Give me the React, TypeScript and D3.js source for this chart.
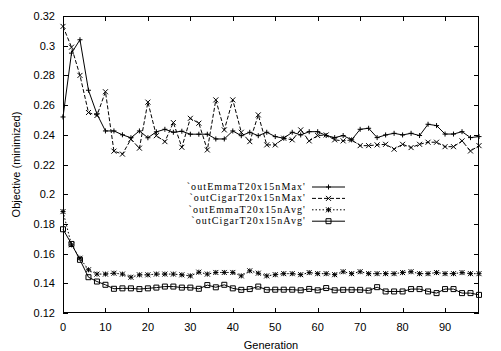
import React from "react";
import * as d3 from "d3";

// generation index (sampled every 2 generations)
const generations = [
  0, 2, 4, 6, 8, 10, 12, 14, 16, 18, 20, 22, 24, 26, 28, 30, 32, 34, 36, 38,
  40, 42, 44, 46, 48, 50, 52, 54, 56, 58, 60, 62, 64, 66, 68, 70, 72, 74, 76,
  78, 80, 82, 84, 86, 88, 90, 92, 94, 96, 98,
];

const emmaMax = [
  0.252, 0.295, 0.304, 0.27, 0.254, 0.2426, 0.2426, 0.24, 0.238, 0.2426,
  0.238, 0.242, 0.2437, 0.2417, 0.2424, 0.2404, 0.2404, 0.2404, 0.2372, 0.2372,
  0.2426, 0.2394, 0.2417, 0.2394, 0.2417, 0.2388, 0.2377, 0.2417, 0.2399,
  0.2421, 0.2421, 0.2395, 0.2381, 0.2395, 0.2366, 0.2437, 0.2444, 0.2381,
  0.2399, 0.241, 0.2399, 0.241, 0.2395, 0.2471, 0.2462, 0.2405, 0.2405,
  0.2421, 0.2381, 0.2388,
];

const cigarMax = [
  0.313, 0.299, 0.28, 0.255, 0.253, 0.269, 0.229, 0.227, 0.237, 0.231, 0.262,
  0.2394, 0.2354, 0.2482, 0.2316, 0.2511, 0.2478, 0.2298, 0.2635, 0.2433,
  0.2635, 0.2417, 0.2354, 0.2534, 0.2332, 0.2332, 0.2377, 0.2366, 0.2433,
  0.2359, 0.2395, 0.2399, 0.2366, 0.2359, 0.2366, 0.2327, 0.2327, 0.2332,
  0.2336, 0.2303, 0.2336, 0.2314, 0.2336, 0.235, 0.235, 0.232, 0.232, 0.2359,
  0.2291, 0.2327,
];

const emmaAvg = [
  0.1883, 0.1659, 0.1569, 0.1491, 0.1462, 0.1462, 0.1468, 0.1462, 0.1441,
  0.1457, 0.1457, 0.1462, 0.1462, 0.1462, 0.1457, 0.145, 0.1475, 0.1462,
  0.1473, 0.1473, 0.1473, 0.145, 0.1484, 0.1468, 0.145, 0.1458, 0.1465,
  0.1465, 0.1458, 0.1472, 0.1465, 0.1465, 0.1458, 0.1478, 0.1465, 0.1478,
  0.1465, 0.1465, 0.1465, 0.1465, 0.1472, 0.1478, 0.1465, 0.1465, 0.1472,
  0.1465, 0.1465, 0.1472, 0.1465, 0.1465,
];

const cigarAvg = [
  0.1764, 0.1665, 0.1558, 0.1441, 0.1412, 0.139, 0.1363, 0.1366, 0.1366,
  0.1361, 0.1366, 0.1371, 0.1378, 0.1378, 0.1371, 0.1371, 0.1363, 0.1388,
  0.1373, 0.139, 0.1366, 0.1356, 0.1361, 0.1378, 0.1356, 0.1357, 0.1357,
  0.1357, 0.1353, 0.1362, 0.1353, 0.1368, 0.1353, 0.1356, 0.1356, 0.1356,
  0.1351, 0.1374, 0.1345, 0.1345, 0.1345, 0.1361, 0.1361, 0.1345, 0.1334,
  0.1361, 0.1361, 0.1334, 0.1334, 0.1322,
];

const seriesNames = [
  "`outEmmaT20x15nMax'",
  "`outCigarT20x15nMax'",
  "`outEmmaT20x15nAvg'",
  "`outCigarT20x15nAvg'",
];

const xTicks = [0, 10, 20, 30, 40, 50, 60, 70, 80, 90];
const yTicks = [0.12, 0.14, 0.16, 0.18, 0.2, 0.22, 0.24, 0.26, 0.28, 0.3, 0.32];
const yTickLabels = ["0.12", "0.14", "0.16", "0.18", "0.2", "0.22", "0.24", "0.26", "0.28", "0.3", "0.32"];

const W = 501;
const H = 351;
const margin = { top: 16, right: 22, bottom: 38, left: 63 };

const sansFont = "'Liberation Sans', Arial, sans-serif";
const serifFont = "'Liberation Serif', 'Times New Roman', serif";

type MarkerKind = "plus" | "cross" | "star" | "square";

const markerPath = (kind: MarkerKind, s = 2.5) => {
  const plus = `M${-s},0H${s}M0,${-s}V${s}`;
  const cross = `M${-s},${-s}L${s},${s}M${-s},${s}L${s},${-s}`;
  if (kind === "plus") return plus;
  if (kind === "cross") return cross;
  if (kind === "star") return plus + cross;
  return `M${-s},${-s}H${s}V${s}H${-s}Z`;
};

const seriesList = [
  { name: seriesNames[0], values: emmaMax, dash: undefined, marker: "plus" as MarkerKind },
  { name: seriesNames[1], values: cigarMax, dash: "4,2", marker: "cross" as MarkerKind },
  { name: seriesNames[2], values: emmaAvg, dash: "1.5,2", marker: "star" as MarkerKind },
  { name: seriesNames[3], values: cigarAvg, dash: undefined, marker: "square" as MarkerKind },
];

export default function App() {
  const x = d3.scaleLinear().domain([0, 98]).range([margin.left, W - margin.right]);
  const y = d3.scaleLinear().domain([0.12, 0.32]).range([H - margin.bottom, margin.top]);
  const x0 = x.range()[0];
  const x1 = x.range()[1];
  const yb = y.range()[0];
  const yt = y.range()[1];
  const tick = 5;

  const line = d3
    .line<number>()
    .x((_, i) => x(generations[i]))
    .y((d) => y(d));

  // legend layout
  const legendRight = 306;
  const legendTop = 190;
  const legendStep = 11.4;
  const sampleX0 = 312;
  const sampleX1 = 345;

  return (
    <svg
      width={W}
      height={H}
      style={{ position: "absolute", left: 0, top: 0, background: "#fff" }}
    >
      <rect x={0} y={0} width={W} height={H} fill="#fff" />

      {/* ticks (inward, mirrored) */}
      <g stroke="#000" strokeWidth={1}>
        {yTicks.map((t) => (
          <g key={"y" + t}>
            <line x1={x0} x2={x0 + tick} y1={Math.round(y(t)) + 0.5} y2={Math.round(y(t)) + 0.5} />
            <line x1={x1 - tick} x2={x1} y1={Math.round(y(t)) + 0.5} y2={Math.round(y(t)) + 0.5} />
          </g>
        ))}
        {xTicks.map((t) => (
          <g key={"x" + t}>
            <line x1={Math.round(x(t)) + 0.5} x2={Math.round(x(t)) + 0.5} y1={yb} y2={yb - tick} />
            <line x1={Math.round(x(t)) + 0.5} x2={Math.round(x(t)) + 0.5} y1={yt} y2={yt + tick} />
          </g>
        ))}
      </g>

      {/* tick labels */}
      <g fontFamily={sansFont} fontSize={11} fill="#000">
        {yTicks.map((t, i) => (
          <text key={"yl" + t} x={x0 - 8} y={y(t) + 4} textAnchor="end">
            {yTickLabels[i]}
          </text>
        ))}
        {xTicks.map((t) => (
          <text key={"xl" + t} x={x(t)} y={yb + 18} textAnchor="middle">
            {t}
          </text>
        ))}
        <text x={(x0 + x1) / 2} y={H - 2} textAnchor="middle">
          Generation
        </text>
        <text
          transform={`translate(20,${(yt + yb) / 2}) rotate(-90)`}
          textAnchor="middle"
        >
          Objective (minimized)
        </text>
      </g>

      {/* series */}
      {seriesList.map((s) => (
        <g key={s.name}>
          <path
            d={line(s.values) ?? ""}
            fill="none"
            stroke="#000"
            strokeWidth={1}
            strokeDasharray={s.dash}
          />
          {s.values.map((v, i) => (
            <path
              key={i}
              transform={`translate(${x(generations[i])},${y(v)})`}
              d={markerPath(s.marker)}
              fill="none"
              stroke="#000"
              strokeWidth={1}
            />
          ))}
        </g>
      ))}

      {/* legend */}
      {seriesList.map((s, i) => {
        const ly = legendTop + i * legendStep;
        return (
          <g key={"lg" + s.name}>
            <text
              x={legendRight}
              y={ly}
              textAnchor="end"
              fontFamily={serifFont}
              fontSize={10}
              letterSpacing={1.1}
              fill="#000"
            >
              {s.name}
            </text>
            <line
              x1={sampleX0}
              x2={sampleX1}
              y1={ly - 3}
              y2={ly - 3}
              stroke="#000"
              strokeWidth={1}
              strokeDasharray={s.dash}
            />
            <path
              transform={`translate(${(sampleX0 + sampleX1) / 2},${ly - 3})`}
              d={markerPath(s.marker)}
              fill="none"
              stroke="#000"
              strokeWidth={1}
            />
          </g>
        );
      })}

      {/* frame */}
      <rect
        x={x0 + 0.5}
        y={yt + 0.5}
        width={x1 - x0 - 1}
        height={yb - yt - 1}
        fill="none"
        stroke="#000"
        strokeWidth={1}
      />
    </svg>
  );
}
